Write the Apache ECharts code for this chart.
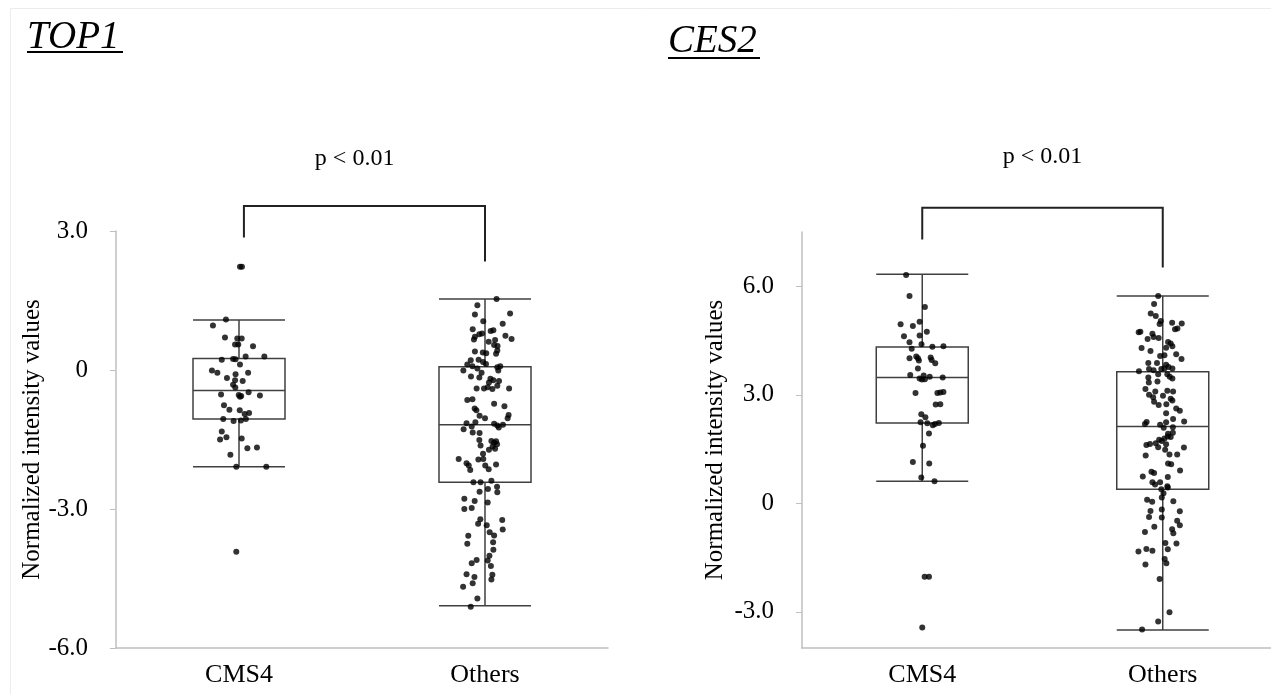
<!DOCTYPE html>
<html>
<head>
<meta charset="utf-8">
<script src="https://cdn.jsdelivr.net/npm/echarts@6/dist/echarts.min.js"></script>
<style>
html, body { margin: 0; padding: 0; background: #fff; }
#chart { width: 1271px; height: 694px; }
</style>
</head>
<body>
<div id="chart"></div>
<script>
const groups = ['CMS4', 'Others']
const pLabel = 'p < 0.01'

// box stats: [min, Q1, median, Q3, max]
const top1Box = [[-2.09, -1.06, -0.44, 0.25, 1.08], [-5.09, -2.42, -1.18, 0.07, 1.53]]
const ces2Box = [[0.61, 2.22, 3.48, 4.32, 6.33], [-3.50, 0.39, 2.12, 3.64, 5.73]]

// points: [jitter, value]
const top1Cms4 = [[0.004,2.23],[0.012,2.23],[-0.053,1.09],[-0.106,0.96],[-0.057,0.70],[-0.007,0.68],[0.011,0.68],[-0.016,0.55],[-0.003,0.55],[0.057,0.51],[-0.070,0.22],[-0.024,0.24],[-0.014,0.23],[0.027,0.29],[0.103,0.29],[0.004,0.12],[-0.110,-0.01],[-0.088,-0.06],[0.037,-0.06],[-0.014,-0.09],[-0.049,-0.17],[-0.016,-0.22],[0.015,-0.24],[-0.024,-0.32],[-0.015,-0.38],[-0.073,-0.53],[-0.001,-0.54],[0.009,-0.56],[0.004,-0.58],[0.039,-0.48],[0.085,-0.55],[-0.061,-0.76],[-0.039,-0.86],[0.003,-0.87],[0.023,-0.95],[0.041,-0.93],[-0.064,-1.06],[-0.022,-1.10],[0.008,-1.09],[0.028,-1.06],[-0.070,-1.33],[-0.077,-1.50],[-0.051,-1.45],[0.011,-1.48],[0.034,-1.69],[0.073,-1.67],[-0.035,-1.83],[-0.011,-2.09],[0.111,-2.09],[-0.011,-3.92]]
const top1Others = [[0.047,1.53],[-0.031,1.40],[-0.041,1.20],[0.102,1.22],[-0.007,1.05],[0.072,1.00],[-0.050,0.88],[-0.012,0.79],[-0.023,0.77],[0.023,0.84],[0.034,0.86],[-0.041,0.72],[-0.045,0.66],[0.083,0.74],[0.108,0.67],[0.015,0.61],[0.041,0.65],[0.037,0.54],[0.051,0.52],[0.050,0.42],[-0.041,0.40],[-0.009,0.38],[0.005,0.36],[0.045,0.35],[-0.058,0.21],[-0.026,0.22],[-0.008,0.17],[-0.072,0.12],[-0.051,0.08],[0.004,0.13],[0.062,0.08],[0.050,0.06],[-0.088,-0.01],[-0.031,0.03],[0.054,-0.01],[-0.014,-0.06],[-0.057,-0.14],[-0.023,-0.16],[0.022,-0.19],[0.034,-0.22],[0.057,-0.24],[0.016,-0.27],[-0.034,-0.40],[-0.004,-0.40],[0.011,-0.37],[0.030,-0.41],[0.098,-0.40],[0.050,-0.34],[-0.072,-0.65],[-0.051,-0.63],[0.037,-0.73],[0.079,-0.78],[-0.042,-0.83],[-0.035,-0.87],[-0.022,-0.99],[0.000,-1.04],[0.096,-0.97],[0.092,-1.04],[-0.075,-1.15],[-0.039,-1.13],[-0.054,-1.22],[-0.087,-1.28],[-0.050,-1.35],[-0.022,-1.36],[0.037,-1.16],[0.050,-1.20],[0.056,-1.24],[0.073,-1.18],[-0.023,-1.51],[-0.018,-1.63],[0.026,-1.53],[0.037,-1.57],[0.045,-1.54],[0.049,-1.60],[0.031,-1.65],[0.041,-1.70],[0.016,-1.72],[-0.008,-1.81],[-0.107,-1.92],[-0.027,-1.93],[-0.007,-1.92],[-0.075,-2.01],[-0.066,-2.06],[-0.060,-2.16],[0.001,-2.06],[0.015,-2.14],[0.045,-2.04],[-0.047,-2.42],[-0.018,-2.42],[0.026,-2.39],[-0.022,-2.63],[0.012,-2.57],[0.049,-2.52],[0.050,-2.64],[-0.084,-2.78],[-0.042,-2.83],[0.011,-2.86],[-0.084,-3.00],[-0.054,-2.98],[-0.019,-3.22],[-0.028,-3.32],[0.007,-3.35],[0.070,-3.24],[0.072,-3.44],[0.019,-3.50],[-0.068,-3.58],[0.037,-3.57],[-0.072,-3.75],[0.033,-3.72],[0.034,-3.88],[-0.054,-4.17],[-0.034,-4.10],[0.011,-4.11],[0.018,-4.01],[0.024,-4.23],[-0.075,-4.41],[-0.043,-4.47],[0.030,-4.42],[0.026,-4.52],[-0.089,-4.68],[-0.050,-4.60],[-0.031,-4.93],[-0.058,-5.11]]
const ces2Cms4 = [[-0.067,6.31],[-0.053,5.73],[0.011,5.43],[-0.090,4.95],[-0.039,4.90],[-0.011,5.02],[-0.076,4.62],[-0.011,4.64],[0.019,4.74],[-0.053,4.45],[-0.003,4.40],[-0.044,4.27],[0.042,4.33],[0.088,4.34],[-0.053,4.01],[-0.025,4.06],[-0.018,4.01],[-0.014,3.95],[0.035,4.03],[0.039,3.96],[0.054,3.87],[-0.018,3.73],[-0.050,3.55],[0.006,3.53],[0.031,3.50],[-0.011,3.45],[-0.001,3.42],[0.011,3.43],[0.085,3.48],[-0.028,3.05],[0.063,3.05],[0.075,3.06],[0.088,3.08],[0.056,2.73],[0.075,2.74],[-0.004,2.46],[0.013,2.38],[-0.007,2.24],[0.021,2.21],[0.044,2.16],[0.053,2.19],[0.069,2.22],[0.028,1.93],[0.003,1.59],[-0.039,1.14],[0.029,1.10],[-0.004,0.71],[0.051,0.61],[0.010,-2.03],[0.028,-2.03],[0.000,-3.43]]
const ces2Others = [[-0.019,5.73],[-0.036,5.51],[-0.050,5.25],[-0.029,5.18],[-0.008,5.04],[-0.013,4.96],[0.039,4.99],[0.079,4.97],[0.061,4.83],[0.051,4.81],[-0.100,4.73],[-0.093,4.74],[-0.043,4.69],[-0.063,4.54],[-0.038,4.60],[-0.017,4.57],[0.022,4.46],[0.033,4.42],[-0.088,4.29],[-0.051,4.21],[0.014,4.30],[0.040,4.34],[-0.011,4.07],[0.007,4.09],[0.056,4.12],[0.078,3.99],[-0.060,3.88],[-0.024,3.88],[0.014,3.83],[0.024,3.77],[-0.057,3.71],[-0.038,3.68],[-0.099,3.65],[-0.006,3.71],[0.007,3.73],[0.040,3.73],[-0.060,3.48],[-0.019,3.57],[0.019,3.57],[0.029,3.50],[0.040,3.45],[-0.058,3.34],[-0.022,3.37],[-0.072,3.16],[-0.031,3.09],[0.019,3.11],[0.043,3.09],[-0.057,3.00],[-0.040,2.93],[0.001,2.97],[0.033,2.89],[-0.036,2.81],[-0.017,2.72],[0.015,2.74],[0.040,2.84],[0.056,2.62],[0.071,2.56],[0.014,2.49],[0.043,2.33],[0.089,2.26],[-0.074,2.19],[-0.067,2.25],[-0.011,2.17],[0.014,2.24],[0.004,2.09],[0.042,2.10],[0.022,1.92],[0.042,1.95],[0.033,1.83],[-0.015,1.76],[0.007,1.79],[0.021,1.85],[-0.068,1.61],[-0.053,1.64],[-0.029,1.66],[-0.004,1.72],[0.014,1.63],[0.088,1.54],[-0.019,1.55],[0.010,1.48],[-0.071,1.32],[0.028,1.35],[0.060,1.35],[0.022,1.10],[0.035,1.08],[-0.047,0.87],[-0.083,0.74],[-0.036,0.84],[0.021,0.73],[0.072,0.91],[-0.043,0.58],[-0.032,0.52],[-0.011,0.58],[0.019,0.47],[-0.006,0.39],[0.021,0.44],[0.003,0.28],[-0.004,0.16],[-0.065,0.10],[-0.044,0.04],[0.044,0.06],[-0.051,-0.21],[-0.004,-0.17],[0.071,-0.22],[-0.057,-0.38],[-0.004,-0.39],[0.060,-0.48],[-0.035,-0.65],[0.071,-0.61],[-0.074,-0.79],[0.039,-0.72],[0.044,-0.83],[0.011,-1.10],[0.057,-1.11],[-0.068,-1.26],[-0.101,-1.33],[-0.043,-1.31],[0.021,-1.27],[0.008,-1.54],[0.015,-1.66],[-0.072,-1.69],[-0.013,-2.09],[0.028,-3.01],[-0.019,-3.27],[-0.086,-3.49]]

// significance brackets: [left x, left leg end, bar level, right x, right leg end], label position [x, y]
const top1Bracket = [0.02, 2.86, 3.54, 1.0, 2.34]
const top1LabelPos = [0.47, 4.3]
const ces2Bracket = [0.0, 7.29, 8.17, 1.0, 6.52]
const ces2LabelPos = [0.5, 9.25]

const serif = '"Liberation Serif", "Times New Roman", serif'
const axisGray = '#bfbfbf'
const boxColor = '#404040'

const chart = echarts.init(document.getElementById('chart'))

const catAxis = (gridIndex) => ({
  type: 'category',
  gridIndex: gridIndex,
  data: groups,
  axisLine: { onZero: false, lineStyle: { color: axisGray, width: 1.5 } },
  axisTick: { show: false },
  axisLabel: { color: '#000', fontFamily: serif, fontSize: 26, margin: 14 }
})

const jitterAxis = (gridIndex) => ({
  type: 'value',
  gridIndex: gridIndex,
  min: -0.5,
  max: 1.5,
  show: false,
  axisLine: { onZero: false }
})

const valAxis = (gridIndex, min, max, ticks) => ({
  type: 'value',
  gridIndex: gridIndex,
  min: min,
  max: max,
  name: 'Normalized intensity values',
  nameLocation: 'middle',
  nameGap: gridIndex === 0 ? 62 : 74,
  nameTextStyle: { color: '#000', fontFamily: serif, fontSize: 25 },
  axisLine: { show: true, onZero: false, lineStyle: { color: axisGray, width: 1.5 } },
  axisTick: { show: true, length: 6, lineStyle: { color: axisGray }, customValues: ticks },
  splitLine: { show: false },
  axisLabel: {
    color: '#000', fontFamily: serif, fontSize: 25, margin: 28,
    customValues: ticks,
    formatter: (v) => v === 0 ? '0' : v.toFixed(1)
  }
})

const boxSeries = (axisIdx, stats) => ({
  type: 'boxplot',
  xAxisIndex: axisIdx * 2,
  yAxisIndex: axisIdx,
  boxWidth: [92, 92],
  silent: true,
  itemStyle: { color: 'rgba(0,0,0,0)', borderColor: boxColor, borderWidth: 1.5 },
  data: stats
})

const dotSeries = (axisIdx, groupIdx, pts) => ({
  type: 'scatter',
  xAxisIndex: axisIdx * 2 + 1,
  yAxisIndex: axisIdx,
  symbolSize: 6,
  silent: true,
  itemStyle: { color: '#000' },
  data: pts.map(p => [groupIdx + p[0], p[1]])
})

const bracketSeries = (axisIdx, br, pos) => ({
  type: 'custom',
  xAxisIndex: axisIdx * 2 + 1,
  yAxisIndex: axisIdx,
  clip: false,
  silent: true,
  data: [0],
  renderItem: (params, api) => {
    const a = api.coord([br[0], br[1]])
    const b = api.coord([br[0], br[2]])
    const c = api.coord([br[3], br[2]])
    const d = api.coord([br[3], br[4]])
    const t = api.coord(pos)
    return {
      type: 'group',
      children: [
        { type: 'polyline', shape: { points: [a, b, c, d] }, style: { stroke: '#222', lineWidth: 2, fill: null } },
        { type: 'text', x: t[0], y: t[1], style: { text: pLabel, font: '24px ' + serif, fill: '#000', align: 'center', verticalAlign: 'bottom' } }
      ]
    }
  }
})

const option = {
  backgroundColor: '#fff',
  animation: false,
  grid: [
    { left: 116, top: 231, width: 492, height: 417, outerBoundsMode: 'none' },
    { left: 802, top: 232, width: 481, height: 416, outerBoundsMode: 'none' }
  ],
  xAxis: [catAxis(0), jitterAxis(0), catAxis(1), jitterAxis(1)],
  yAxis: [valAxis(0, -6, 3, [-6, -3, 0, 3]), valAxis(1, -4, 7.5, [-3, 0, 3, 6])],
  graphic: [
    { type: 'rect', shape: { x: 10.5, y: 8.5, width: 1300, height: 720 }, style: { stroke: '#ececec', fill: null, lineWidth: 1 }, silent: true },
    { type: 'text', x: 27, y: 38, style: { text: 'TOP1', font: 'italic 39px ' + serif, fill: '#000', verticalAlign: 'middle' } },
    { type: 'line', shape: { x1: 27, y1: 52, x2: 123, y2: 52 }, style: { stroke: '#000', lineWidth: 2 } },
    { type: 'text', x: 668, y: 42, style: { text: 'CES2', font: 'italic 39px ' + serif, fill: '#000', verticalAlign: 'middle' } },
    { type: 'line', shape: { x1: 668, y1: 58, x2: 760, y2: 58 }, style: { stroke: '#000', lineWidth: 2 } }
  ],
  series: [
    boxSeries(0, top1Box),
    dotSeries(0, 0, top1Cms4),
    dotSeries(0, 1, top1Others),
    bracketSeries(0, top1Bracket, top1LabelPos),
    boxSeries(1, ces2Box),
    dotSeries(1, 0, ces2Cms4),
    dotSeries(1, 1, ces2Others),
    bracketSeries(1, ces2Bracket, ces2LabelPos)
  ]
}

chart.setOption(option)
</script>
</body>
</html>
